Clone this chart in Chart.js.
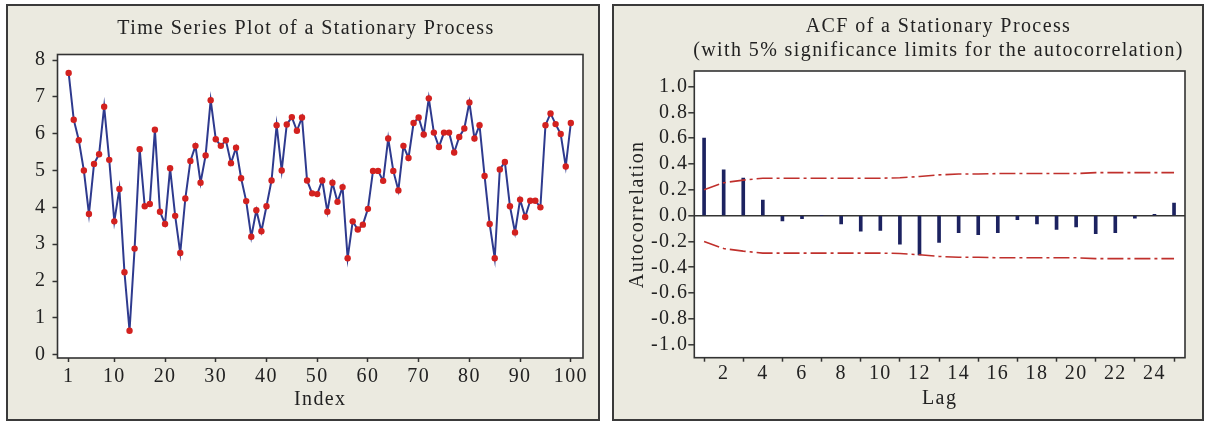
<!DOCTYPE html>
<html lang="en">
<head>
  <meta charset="UTF-8">
  <title>Stationary Process</title>
  <script src="https://cdn.jsdelivr.net/npm/chart.js"></script>
  <style>
    body {
      margin: 0;
      background: #fff;
      width: 1205px;
      height: 421px;
      position: relative;
      overflow: hidden;
    }
    .panel {
      position: absolute;
      top: 4px;
      height: 417px;
      box-sizing: border-box;
      border: 2px solid #3a3a3a;
      background: #ebeae0;
    }
    #p1 { left: 6px; width: 594px; }
    #p2 { left: 612px; width: 592px; }
    canvas { display: block; }
  </style>
</head>
<body>
  <div class="panel" id="p1"><canvas id="tsChart" width="590" height="413"></canvas></div>
  <div class="panel" id="p2"><canvas id="acfChart" width="588" height="413"></canvas></div>

  <script>
    // serie de tiempo (indice 1..100)
    const tsValues = [
      7.65, 6.38, 5.82, 5.00, 3.82, 5.18, 5.44, 6.73, 5.29, 3.62,
      4.50, 2.24, 0.65, 2.88, 5.58, 4.03, 4.09, 6.11, 3.88, 3.55,
      5.06, 3.77, 2.76, 4.24, 5.26, 5.67, 4.67, 5.41, 6.91, 5.85,
      5.67, 5.82, 5.20, 5.62, 4.79, 4.17, 3.20, 3.92, 3.35, 4.03,
      4.73, 6.23, 5.00, 6.25, 6.45, 6.08, 6.44, 4.73, 4.38, 4.36,
      4.73, 3.88, 4.67, 4.15, 4.55, 2.62, 3.62, 3.40, 3.53, 3.96,
      4.99, 4.99, 4.72, 5.87, 4.99, 4.46, 5.67, 5.34, 6.29, 6.44,
      5.98, 6.96, 6.03, 5.64, 6.03, 6.03, 5.49, 5.91, 6.14, 6.85,
      5.87, 6.23, 4.85, 3.55, 2.62, 5.03, 5.23, 4.03, 3.32, 4.21,
      3.74, 4.18, 4.18, 4.00, 6.23, 6.55, 6.26, 5.99, 5.11, 6.29
    ];
    const tsXTicks = [1, 10, 20, 30, 40, 50, 60, 70, 80, 90, 100];
    const tsYTicks = [0, 1, 2, 3, 4, 5, 6, 7, 8];

    // ACF por lag 1..25
    const acfValues = [
      0.60, 0.355, 0.29, 0.12, -0.04, -0.023, 0.0, -0.065, -0.12, -0.115,
      -0.22, -0.305, -0.207, -0.132, -0.148, -0.132, -0.031, -0.065, -0.106, -0.088,
      -0.14, -0.132, -0.02, 0.01, 0.098
    ];
    const upperLimit = [
      0.20, 0.255, 0.275, 0.29, 0.29, 0.29, 0.29, 0.29, 0.29, 0.29,
      0.293, 0.303, 0.316, 0.322, 0.322, 0.326, 0.326, 0.326, 0.326, 0.326,
      0.333, 0.333, 0.333, 0.333, 0.333
    ];
    const lowerLimit = upperLimit.map(v => -v);
    const lagTicks = [2, 4, 6, 8, 10, 12, 14, 16, 18, 20, 22, 24];
    const acfYTicks = [-1.0, -0.8, -0.6, -0.4, -0.2, 0.0, 0.2, 0.4, 0.6, 0.8, 1.0];

    Chart.defaults.font.family = "'Liberation Serif', 'Times New Roman', serif";
    Chart.defaults.font.size = 20;
    Chart.defaults.color = '#222';

    const INK = '#333';

    // la tipografia del original es mas ancha: un poco de espaciado entre letras
    const spacingPlugin = {
      id: 'spacing',
      beforeLayout(chart) { chart.ctx.letterSpacing = '1.4px'; },
      beforeDraw(chart) { chart.ctx.letterSpacing = '1.4px'; }
    };

    // mueve el titulo para centrarlo donde esta en el original
    const titleShift = left => ({
      id: 'titleShift',
      afterLayout(chart) { if (chart.titleBlock) chart.titleBlock.left = left; }
    });

    // fondo blanco y marco del area del grafico
    const framePlugin = {
      id: 'frame',
      beforeDraw(chart) {
        const { ctx, chartArea: a } = chart;
        ctx.save();
        ctx.fillStyle = '#fff';
        ctx.fillRect(a.left, a.top, a.right - a.left, a.bottom - a.top);
        ctx.restore();
      },
      afterDraw(chart) {
        const { ctx, chartArea: a } = chart;
        ctx.save();
        ctx.strokeStyle = INK;
        ctx.lineWidth = 1.6;
        ctx.strokeRect(a.left, a.top, a.right - a.left, a.bottom - a.top);
        ctx.restore();
      }
    };

    const fixedTicks = arr => scale => { scale.ticks = arr.map(v => ({ value: v })); };

    // grafico 1: serie de tiempo
    new Chart(document.getElementById('tsChart'), {
      type: 'line',
      data: {
        datasets: [{
          data: tsValues.map((v, i) => ({ x: i + 1, y: v })),
          borderColor: '#2e3a8e',
          borderWidth: 2,
          pointRadius: 3.2,
          pointBackgroundColor: '#d3211f',
          pointBorderWidth: 0,
          tension: 0
        }]
      },
      options: {
        responsive: false,
        animation: false,
        layout: { padding: { left: 0, right: 15, top: 0, bottom: 0 } },
        plugins: {
          legend: { display: false },
          tooltip: { enabled: false },
          title: {
            display: true,
            text: 'Time Series Plot of a Stationary Process',
            font: { size: 20, weight: 'normal' },
            padding: { top: 11, bottom: 13.5 }
          }
        },
        scales: {
          x: {
            type: 'linear',
            min: -1.2,
            max: 102.4,
            afterBuildTicks: fixedTicks(tsXTicks),
            afterFit: s => { s.height = 61; },
            grid: { drawOnChartArea: false, tickLength: 4, tickColor: INK, tickWidth: 1.5 },
            border: { display: false },
            ticks: { padding: 3, maxRotation: 0, autoSkip: false },
            title: { display: true, text: 'Index', padding: { bottom: 7, top: 0 } }
          },
          y: {
            min: -0.09,
            max: 8.15,
            afterBuildTicks: fixedTicks(tsYTicks),
            afterFit: s => { s.width = 49.5; },
            grid: { drawOnChartArea: false, tickLength: 5, tickColor: INK, tickWidth: 1.5 },
            border: { display: false },
            ticks: { padding: 6 }
          }
        }
      },
      plugins: [spacingPlugin, titleShift(21), framePlugin]
    });

    // grafico 2: ACF con limites
    const lags = acfValues.map((v, i) => i + 1);
    const dashDot = [16, 4, 3, 4];
    new Chart(document.getElementById('acfChart'), {
      type: 'bar',
      data: {
        datasets: [
          {
            type: 'line',
            data: lags.map((l, i) => ({ x: l, y: upperLimit[i] })),
            borderColor: '#c0302c',
            borderWidth: 1.6,
            borderDash: dashDot,
            pointRadius: 0,
            tension: 0
          },
          {
            type: 'line',
            data: lags.map((l, i) => ({ x: l, y: lowerLimit[i] })),
            borderColor: '#c0302c',
            borderWidth: 1.6,
            borderDash: dashDot,
            pointRadius: 0,
            tension: 0
          },
          {
            type: 'bar',
            data: lags.map((l, i) => ({ x: l, y: acfValues[i] })),
            backgroundColor: '#1c2260',
            barThickness: 3
          }
        ]
      },
      options: {
        responsive: false,
        animation: false,
        layout: { padding: { left: 0, right: 17, top: 0, bottom: 0 } },
        plugins: {
          legend: { display: false },
          tooltip: { enabled: false },
          title: {
            display: true,
            text: ['ACF of a Stationary Process', '(with 5% significance limits for the autocorrelation)'],
            font: { size: 20, weight: 'normal' },
            padding: { top: 9, bottom: 8 }
          }
        },
        scales: {
          x: {
            type: 'linear',
            min: 0.5,
            max: 25.56,
            offset: false,
            afterBuildTicks: fixedTicks(lagTicks),
            afterFit: s => { s.height = 61.3; },
            grid: { drawOnChartArea: false, tickLength: 4, tickColor: INK, tickWidth: 1.5 },
            border: { display: false },
            ticks: { padding: 0, maxRotation: 0, autoSkip: false },
            title: { display: true, text: 'Lag', padding: { bottom: 8, top: 0 } }
          },
          y: {
            min: -1.1,
            max: 1.12,
            afterBuildTicks: fixedTicks(acfYTicks),
            afterFit: s => { s.width = 80.3; },
            grid: {
              drawOnChartArea: true,
              color: c => (c.tick && c.tick.value === 0 ? INK : 'transparent'),
              lineWidth: 1.6,
              tickLength: 6,
              tickColor: INK,
              tickWidth: 1.5
            },
            border: { display: false },
            ticks: { padding: 0, callback: v => v.toFixed(1) },
            title: { display: true, text: 'Autocorrelation', padding: { top: 12, bottom: 0 } }
          }
        }
      },
      plugins: [spacingPlugin, titleShift(78), framePlugin]
    });
  </script>
</body>
</html>
